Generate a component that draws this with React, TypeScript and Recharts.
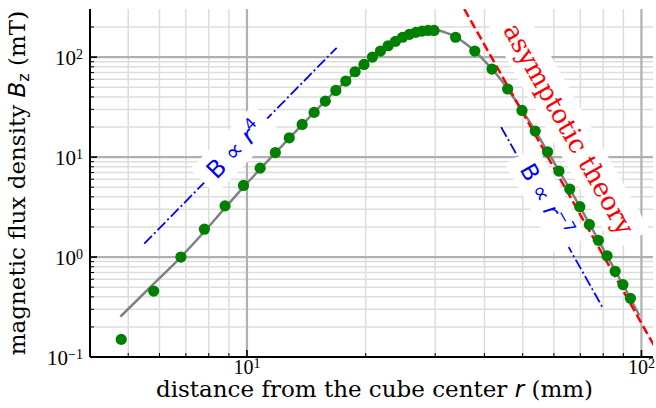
import {
  ComposedChart,
  Line,
  Scatter,
  XAxis,
  YAxis,
  ReferenceLine,
  ReferenceDot,
  Label,
} from "recharts";

// measured field along the axis (mm, mT)
const measR = [
  4.8, 5.8, 6.8, 7.8, 8.8, 9.8, 10.8, 11.8, 12.8, 13.8, 14.8, 15.8, 16.8, 17.8,
  18.8, 19.8, 20.8, 21.8, 22.8, 23.8, 24.8, 25.8, 26.8, 27.8, 28.8, 29.8, 33.8,
  37.8, 41.8, 45.8, 49.8, 53.8, 57.8, 61.8, 65.8, 69.8, 73.8, 77.8, 81.8, 85.8,
  89.8, 93.8,
];
const measB = [
  0.15, 0.457, 1.0, 1.9, 3.25, 5.2, 7.75, 11.1, 15.6, 21.2, 28, 36.3, 46.4, 57.5,
  71.4, 84.5, 100, 115, 130, 144, 158, 169, 177, 182, 185, 185, 158, 115, 76, 48,
  29.3, 18.2, 11.3, 7.24, 4.79, 3.19, 2.12, 1.47, 1.03, 0.72, 0.53, 0.386,
];

// simulated curve (gray)
const modelR = [
  4.78, 5.8, 6.8, 7.8, 8.8, 9.8, 10.8, 11.8, 12.8, 13.8, 14.8, 15.8, 16.8, 17.8,
  18.8, 19.8, 20.8, 21.8, 22.8, 23.8, 24.8, 25.8, 26.8, 27.8, 28.8, 29.8, 31.8,
  33.8, 35.8, 37.8, 39.8, 41.8, 43.8, 45.8, 49.8, 53.8, 57.8, 61.8, 65.8, 69.8,
  73.8, 77.8, 81.8, 85.8, 89.8, 93.8, 98.8,
];
const modelB = [
  0.254, 0.54, 1.0, 1.8, 3.1, 5.0, 7.6, 11, 15.5, 21, 28, 36.5, 46.5, 57.5, 71,
  84.5, 100, 114, 129, 144, 157, 168, 177, 183, 187, 188, 177, 160, 137, 115, 94,
  76, 61, 48, 29.5, 18.3, 11.4, 7.3, 4.8, 3.2, 2.15, 1.48, 1.03, 0.73, 0.53,
  0.385, 0.26,
];

// asymptotic theory, B ~ r^-7
const asymR = [33, 110];
const asymB = [511, 0.112];

// guide lines
const guide4R = [5.49, 16.88];
const guide4B = [1.36, 124];
const guide7R = [44.1, 80.2];
const guide7B = [19.95, 0.3];

const xMajor = [10, 100];
const xMinor = [5, 6, 7, 8, 9, 20, 30, 40, 50, 60, 70, 80, 90];
const yMajor = [0.1, 1, 10, 100];
const yMinor = [
  0.2, 0.3, 0.4, 0.5, 0.6, 0.7, 0.8, 0.9, 2, 3, 4, 5, 6, 7, 8, 9, 20, 30, 40, 50,
  60, 70, 80, 90, 200,
];

const zip = (xs: number[], ys: number[]) => xs.map((x, i) => ({ x, y: ys[i] }));
const meas = zip(measR, measB);
const model = zip(modelR, modelB);
const asym = zip(asymR, asymB);
const guide4 = zip(guide4R, guide4B);
const guide7 = zip(guide7R, guide7B);

const SERIF = "'DejaVu Serif', serif";
const TICKF = "'Liberation Serif', serif";
const SANS = "'DejaVu Sans', sans-serif";

const isMajor = (v: number) => Math.abs(Math.log10(v) - Math.round(Math.log10(v))) < 1e-6;
const expOf = (v: number) => {
  const e = Math.round(Math.log10(v));
  return e < 0 ? `\u2212${-e}` : `${e}`;
};

// tick marks point into the plot; labels only on bottom/left majors
function Tick(props: any) {
  const { x, y, payload, side } = props;
  const v = payload.value;
  const major = isMajor(v);
  const len = major ? 7 : 4;
  const sw = major ? 1.6 : 1;
  let mark;
  if (side === "bottom") mark = <line x1={x} x2={x} y1={y} y2={y - len} stroke="#000" strokeWidth={sw} />;
  else if (side === "top") mark = <line x1={x} x2={x} y1={y} y2={y + len} stroke="#000" strokeWidth={sw} />;
  else if (side === "left") mark = <line x1={x} x2={x + len} y1={y} y2={y} stroke="#000" strokeWidth={sw} />;
  else mark = <line x1={x} x2={x - len} y1={y} y2={y} stroke="#000" strokeWidth={sw} />;
  let label = null;
  if (major && side === "bottom") {
    label = (
      <text x={x} y={y + 17} textAnchor="middle" fontFamily={TICKF} fontSize={20} fill="#000">
        10<tspan dy={-6} fontSize={14}>{expOf(v)}</tspan>
      </text>
    );
  } else if (major && side === "left") {
    label = (
      <text x={x - 7} y={y + 8} textAnchor="end" fontFamily={TICKF} fontSize={21} fill="#000">
        10<tspan dy={-6} fontSize={14}>{expOf(v)}</tspan>
      </text>
    );
  }
  return (
    <g>
      {mark}
      {label}
    </g>
  );
}

function BoxLabel(props: any) {
  const { cx, cy, angle, w, h, color, font, size, children } = props;
  if (cx == null || cy == null) return null;
  return (
    <g transform={`translate(${cx},${cy}) rotate(${angle})`}>
      <rect x={-w / 2} y={-h / 2} width={w} height={h} fill="#fff" />
      <text x={0} y={size * 0.36} textAnchor="middle" fontFamily={font} fontSize={size} fill={color}>
        {children}
      </text>
    </g>
  );
}

export default function App() {
  return (
    <div style={{ position: "absolute", left: 0, top: 0, width: 656, height: 408, background: "#fff" }}>
      <ComposedChart width={656} height={408} margin={{ top: 9, right: 3, left: 0, bottom: 0 }}>
        <XAxis
          xAxisId="b"
          dataKey="x"
          type="number"
          scale="log"
          domain={[4, 107]}
          allowDataOverflow
          ticks={[...xMinor, ...xMajor]}
          interval={0}
          height={51}
          tickSize={0}
          tickMargin={0}
          tickLine={false}
          axisLine={{ stroke: "#000", strokeWidth: 2 }}
          tick={<Tick side="bottom" />}
        >
          <Label
            content={(p: any) => {
              const vb = p.viewBox;
              return (
                <text x={vb.x + vb.width / 2 + 3} y={vb.y + 40} textAnchor="middle" fontFamily={SERIF} fontSize={23} fill="#000">
                  distance from the cube center <tspan fontFamily={SANS} fontStyle="italic">r</tspan> (mm)
                </text>
              );
            }}
          />
        </XAxis>
        <XAxis
          xAxisId="t"
          dataKey="x"
          type="number"
          scale="log"
          domain={[4, 107]}
          allowDataOverflow
          orientation="top"
          ticks={[...xMinor, ...xMajor]}
          interval={0}
          height={0}
          tickSize={0}
          tickMargin={0}
          tickLine={false}
          axisLine={{ stroke: "#000", strokeWidth: 2 }}
          tick={<Tick side="top" />}
        />
        <YAxis
          yAxisId="l"
          type="number"
          scale="log"
          domain={[0.1, 303]}
          allowDataOverflow
          ticks={[...yMinor, ...yMajor]}
          interval={0}
          width={90}
          tickSize={0}
          tickMargin={0}
          tickLine={false}
          axisLine={{ stroke: "#000", strokeWidth: 2 }}
          tick={<Tick side="left" />}
        >
          <Label
            content={(p: any) => {
              const vb = p.viewBox;
              const cy = vb.y + vb.height / 2;
              return (
                <text
                  x={25}
                  y={cy}
                  transform={`rotate(-90, 25, ${cy})`}
                  textAnchor="middle"
                  fontFamily={SERIF}
                  fontSize={23}
                  fill="#000"
                >
                  magnetic flux density <tspan fontFamily={SANS} fontStyle="italic">B</tspan>
                  <tspan fontFamily={SANS} fontSize={16} dy={4}>z</tspan>
                  <tspan dy={-4}> (mT)</tspan>
                </text>
              );
            }}
          />
        </YAxis>
        <YAxis
          yAxisId="r"
          type="number"
          scale="log"
          domain={[0.1, 303]}
          allowDataOverflow
          orientation="right"
          ticks={[...yMinor, ...yMajor]}
          interval={0}
          width={0}
          tickSize={0}
          tickMargin={0}
          tickLine={false}
          axisLine={{ stroke: "#000", strokeWidth: 2 }}
          tick={<Tick side="right" />}
        />

        {xMinor.map((v) => (
          <ReferenceLine key={`xm${v}`} xAxisId="b" yAxisId="l" x={v} stroke="#dddddd" strokeWidth={1.5} />
        ))}
        {yMinor.map((v) => (
          <ReferenceLine key={`ym${v}`} xAxisId="b" yAxisId="l" y={v} stroke="#dddddd" strokeWidth={1.5} />
        ))}
        {xMajor.map((v) => (
          <ReferenceLine key={`xM${v}`} xAxisId="b" yAxisId="l" x={v} stroke="#b0b0b0" strokeWidth={2.2} />
        ))}
        {yMajor.map((v) => (
          <ReferenceLine key={`yM${v}`} xAxisId="b" yAxisId="l" y={v} stroke="#b0b0b0" strokeWidth={2.2} />
        ))}

        <Line
          xAxisId="b"
          yAxisId="l"
          data={model}
          dataKey="y"
          type="monotone"
          stroke="#808080"
          strokeWidth={2.5}
          dot={false}
          isAnimationActive={false}
        />
        <Line
          xAxisId="b"
          yAxisId="l"
          data={asym}
          dataKey="y"
          type="linear"
          stroke="#ff0000"
          strokeWidth={2.5}
          strokeDasharray="9 4"
          dot={false}
          isAnimationActive={false}
        />
        <Line
          xAxisId="b"
          yAxisId="l"
          data={guide4}
          dataKey="y"
          type="linear"
          stroke="#0000ff"
          strokeWidth={1.8}
          strokeDasharray="11 3 2 3"
          dot={false}
          isAnimationActive={false}
        />
        <Line
          xAxisId="b"
          yAxisId="l"
          data={guide7}
          dataKey="y"
          type="linear"
          stroke="#0000ff"
          strokeWidth={1.8}
          strokeDasharray="11 3 2 3"
          dot={false}
          isAnimationActive={false}
        />
        <Scatter
          xAxisId="b"
          yAxisId="l"
          data={meas}
          dataKey="y"
          fill="#008000"
          isAnimationActive={false}
          shape={(p: any) => <circle cx={p.cx} cy={p.cy} r={5.6} fill="#008000" />}
        />

        <ReferenceDot
          xAxisId="b"
          yAxisId="l"
          x={9.3}
          y={11.9}
          r={0}
          shape={(p: any) => (
            <BoxLabel cx={p.cx} cy={p.cy} angle={-45.5} w={90} h={36} color="#0000ff" font={SANS} size={24}>
              B ∝ <tspan fontStyle="italic">r</tspan>
              <tspan dy={-10} fontSize={16}>4</tspan>
            </BoxLabel>
          )}
        />
        <ReferenceDot
          xAxisId="b"
          yAxisId="l"
          x={57.3}
          y={3.71}
          r={0}
          shape={(p: any) => (
            <BoxLabel cx={p.cx} cy={p.cy} angle={60.7} w={104} h={36} color="#0000ff" font={SANS} size={23}>
              B ∝ <tspan fontStyle="italic">r</tspan>
              <tspan dy={-10} fontSize={16}>−7</tspan>
            </BoxLabel>
          )}
        />
        <ReferenceDot
          xAxisId="b"
          yAxisId="l"
          x={65.6}
          y={19.2}
          r={0}
          shape={(p: any) => (
            <BoxLabel cx={p.cx} cy={p.cy} angle={60.5} w={256} h={40} color="#ff0000" font={SERIF} size={26}>
              asymptotic theory
            </BoxLabel>
          )}
        />
      </ComposedChart>
    </div>
  );
}
